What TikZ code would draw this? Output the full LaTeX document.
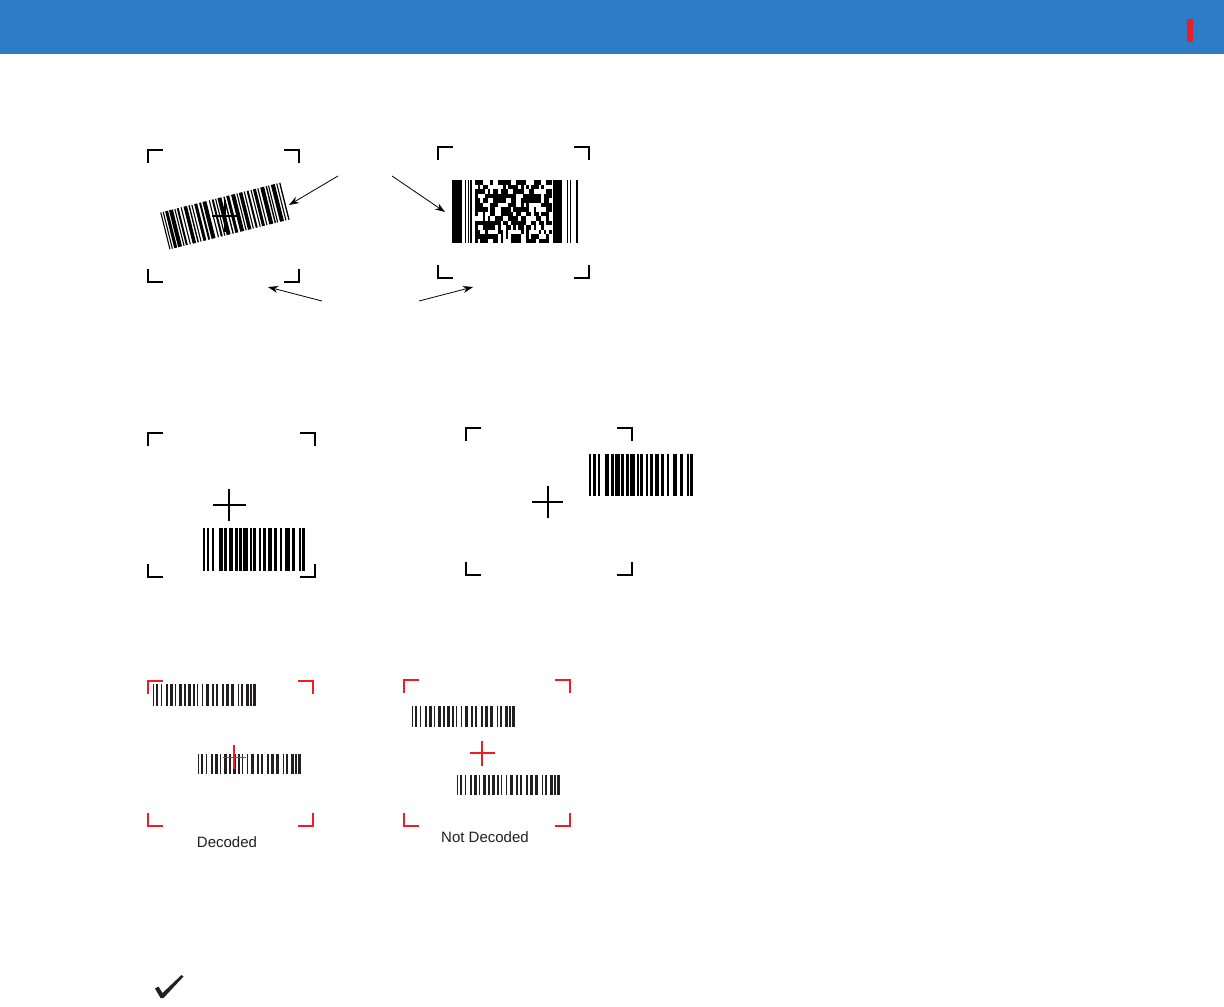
\documentclass[tikz,border=0pt]{standalone}
\usepackage{fontspec}
\setmainfont{Liberation Sans}
\usetikzlibrary{arrows.meta}
\definecolor{hdrblue}{HTML}{2E7BC7}
\definecolor{tagred}{HTML}{EE1C25}
\definecolor{inkgray}{HTML}{231F20}
\tikzset{
  blackframe/.style={line width=1.6pt, draw=black},
  redframe/.style={line width=1.5pt, draw=tagred},
  pointer/.style={line width=0.8pt, -{Stealth[length=10pt,width=7pt]}},
  lbl/.style={font=\fontsize{15}{18}\selectfont, text=inkgray, inner sep=0pt},
  crossthick/.style={line width=2pt},
  crossthin/.style={line width=1.4pt},
}
% start/width pairs of bars (px)
\def\barsA{0/2.4,4.3/2.1,9/1.7,16/4,21.3/3,25.7/4.7,31.7/3,36.3/2.6,40.3/4.7,46.7/2.2,50.3/2.6,56.3/1.4,60/3,65/4,71/2.6,76.7/2.2,82.3/4.4,89.3/2.6,95.7/2.2,99.3/2.5}
\def\barsB{0/1.4,3.3/1.4,7.7/1.2,12.7/2.6,17.3/2.6,22/1.4,26/2.6,30.7/1.8,35.3/2.6,40.3/1.4,44/1.4,49/1.4,53/2.6,59/1.8,62.7/2.6,69.3/1.4,73.3/2.2,78/2.8,84.7/1.2,88.3/1.8,93/2.6,97.3/1.8,100.3/2.8}
\def\barsC{0/1.1,2.5/1.1,5/3,9/4,14.5/1.1,17/2,21/1.1,24/3.5,29/1.4,32/1.1,35/3,40/2,43.5/4,50/1.1,53/2,56.5/1.1,59/4,65/1.4,68/3,73/4,78.5/1.1,81/3.5,86/1.1,89/2,93/1.1,95.5/3,100/1.1,103/4,108.5/1.4,111/1.1,114/4,119.5/1.1,122.5/1.3}
% #1 x0, #2 y0, #3 height, #4 list, #5 colour
\newcommand\drawbars[5]{\foreach \p/\w in #4 {\fill[#5] (#1+\p,#2) rectangle (#1+\p+\w,#2+#3);}}
% corner brackets: #1 x1, #2 y1, #3 x2, #4 y2, #5 style
\newcommand\cornerframe[5]{%
  \draw[#5] (#1,#2+13) -- (#1,#2) -- (#1+15,#2);
  \draw[#5] (#3-15,#2) -- (#3,#2) -- (#3,#2+13);
  \draw[#5] (#1,#4-13) -- (#1,#4) -- (#1+15,#4);
  \draw[#5] (#3-15,#4) -- (#3,#4) -- (#3,#4-13);}
\begin{document}
\begin{tikzpicture}[x=1pt,y=-1pt]
\useasboundingbox (0,0) rectangle (1224,1007);
\fill[white] (0,0) rectangle (1224,1007);
% header
\fill[hdrblue] (0,0) rectangle (1224,54);
\fill[tagred] (1187,19) rectangle (1193,42);

% ---- group 1: tilted linear barcode
\cornerframe{148}{150}{299}{282}{blackframe}
\begin{scope}[shift={(225,216)},rotate=14]
  \drawbars{-62}{-19}{38}{\barsC}{black}
\end{scope}
\draw[line width=1.4pt] (212,216) -- (237,216);
\draw[line width=1.4pt] (225,200) -- (225,232);

% ---- group 2: PDF417
\cornerframe{438}{147}{589}{278}{blackframe}
\fill (452,180) rectangle (461.5,243);
\fill (464.7,180) rectangle (466,243);
\fill (467.5,180) rectangle (468.5,243);
\fill (470.3,180) rectangle (471.7,243);
\pgfmathsetseed{4217}
\foreach \r in {0,...,13}{
  \foreach \c in {0,...,29}{
    \pgfmathrandominteger{\v}{0}{99}
    \ifnum\v<63 \fill (475+\c*2.55,180+\r*4.5) rectangle (475+\c*2.55+2.6,180+\r*4.5+4.55);\fi
  }
}
\fill (553,180) rectangle (562,243);
\fill (566.7,180) rectangle (568,243);
\fill (570,180) rectangle (571.3,243);
\fill (576,180) rectangle (577.7,243);

% arrows
\coordinate (p1s) at (338,176);
\coordinate (p1e) at (289,205);
\coordinate (p2s) at (392,176);
\coordinate (p2e) at (445,212);
\coordinate (p3s) at (322,301);
\coordinate (p3e) at (268,287);
\coordinate (p4s) at (419,301);
\coordinate (p4e) at (473,287);
\draw[pointer] (p1s) -- (p1e);
\draw[pointer] (p2s) -- (p2e);
\draw[pointer] (p3s) -- (p3e);
\draw[pointer] (p4s) -- (p4e);

% ---- group 3
\cornerframe{148}{433}{315}{577}{blackframe}
\draw[crossthick] (213,505) -- (246,505);
\draw[crossthick] (229,489) -- (229,521);
\drawbars{203}{528}{43}{\barsA}{black}

% ---- group 4
\cornerframe{466}{428}{632}{575}{blackframe}
\draw[crossthin] (532,502) -- (563,502);
\draw[crossthin] (548,486) -- (548,518);
\begin{scope}[shift={(589,454)},xscale=1.02]
  \drawbars{0}{0}{42}{\barsA}{black}
\end{scope}

% ---- group 5 (red, decoded)
\cornerframe{148}{681}{313}{826}{redframe}
\drawbars{153}{684}{22}{\barsB}{inkgray}
\drawbars{198}{754}{20}{\barsB}{inkgray}
\draw[tagred,line width=0.8pt] (223,757) -- (246,757);
\draw[tagred,line width=2pt] (234,745) -- (234,769);
\node[lbl] (dec) at (227,842) {Decoded};

% ---- group 6 (red, not decoded)
\cornerframe{404}{680}{570}{826}{redframe}
\drawbars{412}{706}{21}{\barsB}{inkgray}
\drawbars{457}{775}{20}{\barsB}{inkgray}
\draw[tagred,line width=1.4pt] (470,753) -- (495,753);
\draw[tagred,line width=1.4pt] (482,741) -- (482,766);
\node[lbl] (notdec) at (485,837) {Not Decoded};

% ---- check mark
\fill[inkgray] (155,988.5) -- (158.5,986.5) -- (162.5,993) -- (181.5,975) -- (183.5,976.5) -- (163.5,998) -- (160.5,998) -- cycle;
\end{tikzpicture}
\end{document}
